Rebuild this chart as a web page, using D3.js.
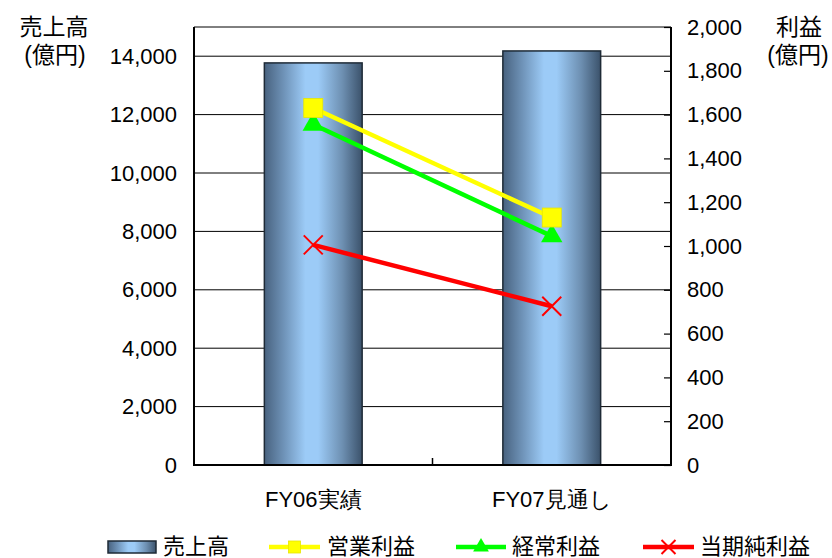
<!DOCTYPE html>
<html>
<head>
<meta charset="utf-8">
<script src="https://cdn.jsdelivr.net/npm/d3@7/dist/d3.min.js"></script>
<style>
  html, body { margin: 0; padding: 0; background: #fff; }
  svg { display: block; font-family: "Liberation Sans", "Noto Sans CJK JP", Arial, sans-serif; }
</style>
</head>
<body>
<svg id="chart" width="832" height="558"></svg>
<script>
// Categories and series (億円)
const categories = ["FY06実績", "FY07見通し"];
const sales = [13770, 14180];            // 売上高 (left axis)
const operatingProfit = [1630, 1130];    // 営業利益 (right axis)
const ordinaryProfit = [1555, 1045];     // 経常利益
const netProfit = [1005, 725];           // 当期純利益
const leftTicks = [0, 2000, 4000, 6000, 8000, 10000, 12000, 14000];
const rightTicks = [0, 200, 400, 600, 800, 1000, 1200, 1400, 1600, 1800, 2000];

const svg = d3.select("#chart");
const plot = { left: 194, right: 671, top: 27, bottom: 465 };

const x = d3.scaleBand().domain(categories).range([plot.left, plot.right]).paddingInner(0).paddingOuter(0);
const yL = d3.scaleLinear().domain([0, 15000]).range([plot.bottom, plot.top]);
const yR = d3.scaleLinear().domain([0, 2000]).range([plot.bottom, plot.top]);
const barW = x.bandwidth() * 0.41;
const cx = d => x(d) + x.bandwidth() / 2;

// Cylinder-like horizontal gradient for the sales bars
const defs = svg.append("defs");
const grad = defs.append("linearGradient").attr("id", "barGrad")
  .attr("x1", "0%").attr("x2", "100%").attr("y1", "0%").attr("y2", "0%");
[[0, "#48627f"], [0.2, "#6f93b8"], [0.42, "#9ccbf7"], [0.55, "#9ccbf7"], [0.8, "#6d8fb1"], [1, "#3b526b"]]
  .forEach(([o, c]) => grad.append("stop").attr("offset", o).attr("stop-color", c));

// Gridlines on the left scale
svg.append("g").selectAll("line").data(leftTicks.filter(t => t > 0)).join("line")
  .attr("x1", plot.left).attr("x2", plot.right)
  .attr("y1", d => yL(d)).attr("y2", d => yL(d))
  .attr("stroke", "#000").attr("stroke-width", 1);
// top frame line
svg.append("line").attr("x1", plot.left).attr("x2", plot.right)
  .attr("y1", plot.top).attr("y2", plot.top).attr("stroke", "#000").attr("stroke-width", 1);

// Sales bars
svg.append("g").selectAll("rect").data(categories).join("rect")
  .attr("x", d => cx(d) - barW / 2)
  .attr("width", barW)
  .attr("y", (d, i) => yL(sales[i]))
  .attr("height", (d, i) => plot.bottom - yL(sales[i]))
  .attr("fill", "url(#barGrad)")
  .attr("stroke", "#1e2a36").attr("stroke-width", 1.5);

// Axes
const leftAxis = d3.axisLeft(yL).tickValues(leftTicks).tickSize(0).tickPadding(17)
  .tickFormat(d3.format(","));
const gL = svg.append("g").attr("transform", `translate(${plot.left},0)`).call(leftAxis);
gL.select(".domain").remove();

const rightAxis = d3.axisRight(yR).tickValues(rightTicks).tickSize(-7).tickPadding(16)
  .tickFormat(d3.format(","));
const gR = svg.append("g").attr("transform", `translate(${plot.right},0)`).call(rightAxis);
gR.select(".domain").remove();
gR.selectAll(".tick line").attr("stroke", "#000").attr("stroke-width", 1.2);

[gL, gR].forEach(g => g.selectAll("text")
  .attr("font-size", 22).attr("fill", "#000")
  .attr("font-family", "'Liberation Sans', Arial, sans-serif"));

// Axis lines
svg.append("line").attr("x1", plot.left).attr("x2", plot.left).attr("y1", plot.top).attr("y2", plot.bottom + 1)
  .attr("stroke", "#000").attr("stroke-width", 2);
svg.append("line").attr("x1", plot.right).attr("x2", plot.right).attr("y1", plot.top).attr("y2", plot.bottom + 1)
  .attr("stroke", "#000").attr("stroke-width", 2);

const bottomAxis = d3.axisBottom(x).tickSize(0).tickPadding(26);
const gB = svg.append("g").attr("transform", `translate(0,${plot.bottom})`).call(bottomAxis);
gB.select(".domain").remove();
gB.selectAll("text").attr("font-size", 22).attr("fill", "#000");
svg.append("line").attr("x1", plot.left - 1).attr("x2", plot.right + 1).attr("y1", plot.bottom).attr("y2", plot.bottom)
  .attr("stroke", "#000").attr("stroke-width", 2);
// category separator tick
svg.append("line").attr("x1", x(categories[1])).attr("x2", x(categories[1]))
  .attr("y1", plot.bottom).attr("y2", plot.bottom - 7).attr("stroke", "#000").attr("stroke-width", 1.5);

// Profit lines
const series = [
  { values: operatingProfit, color: "#ffff00", marker: "square" },
  { values: ordinaryProfit, color: "#00ff00", marker: "triangle" },
  { values: netProfit, color: "#ff0000", marker: "x" }
];
const line = d3.line().x((d, i) => cx(categories[i])).y(d => yR(d));

function drawMarker(g, type, color, px, py, s) {
  if (type === "square") {
    g.append("rect").attr("x", px - s / 2).attr("y", py - s / 2).attr("width", s).attr("height", s)
      .attr("fill", color).attr("stroke", "#e6e600").attr("stroke-width", 0.8);
  } else if (type === "triangle") {
    g.append("path").attr("d", d3.symbol().type(d3.symbolTriangle).size(s * s * 0.55)())
      .attr("transform", `translate(${px},${py})`).attr("fill", color);
  } else {
    const h = s / 2;
    g.append("path").attr("d", `M${px - h},${py - h}L${px + h},${py + h}M${px - h},${py + h}L${px + h},${py - h}`)
      .attr("stroke", color).attr("stroke-width", 2).attr("fill", "none");
  }
}

series.slice().reverse().forEach(s => {
  const g = svg.append("g");
  g.append("path").datum(s.values).attr("d", line)
    .attr("fill", "none").attr("stroke", s.color).attr("stroke-width", 4.5);
  s.values.forEach((v, i) => drawMarker(g, s.marker, s.color, cx(categories[i]), yR(v), 19));
});

// Axis titles
const title = (txt, xPos, yPos) => svg.append("text").attr("x", xPos).attr("y", yPos)
  .attr("text-anchor", "middle").attr("font-size", 23).attr("fill", "#000").text(txt);
title("売上高", 54, 35);
title("(億円)", 55, 63);
title("利益", 799, 35);
title("(億円)", 798, 63);

// Legend
const legend = svg.append("g");
const ly = 547;
legend.append("rect").attr("x", 108).attr("y", ly - 6).attr("width", 48).attr("height", 12)
  .attr("fill", "url(#barGrad)").attr("stroke", "#1e2a36").attr("stroke-width", 1.5);
const legendItems = [
  { label: "売上高", tx: 163 },
  { label: "営業利益", x0: 269, x1: 320, tx: 327, color: "#ffff00", marker: "square" },
  { label: "経常利益", x0: 456, x1: 506, tx: 512, color: "#00ff00", marker: "triangle" },
  { label: "当期純利益", x0: 643, x1: 694, tx: 700, color: "#ff0000", marker: "x" }
];
legendItems.forEach(it => {
  if (it.color) {
    legend.append("line").attr("x1", it.x0).attr("x2", it.x1).attr("y1", ly).attr("y2", ly)
      .attr("stroke", it.color).attr("stroke-width", 4.5);
    drawMarker(legend, it.marker, it.color, (it.x0 + it.x1) / 2, ly, it.marker === "square" ? 12 : 14);
  }
  legend.append("text").attr("x", it.tx).attr("y", 554).attr("font-size", 22).attr("fill", "#000").text(it.label);
});
</script>
</body>
</html>
